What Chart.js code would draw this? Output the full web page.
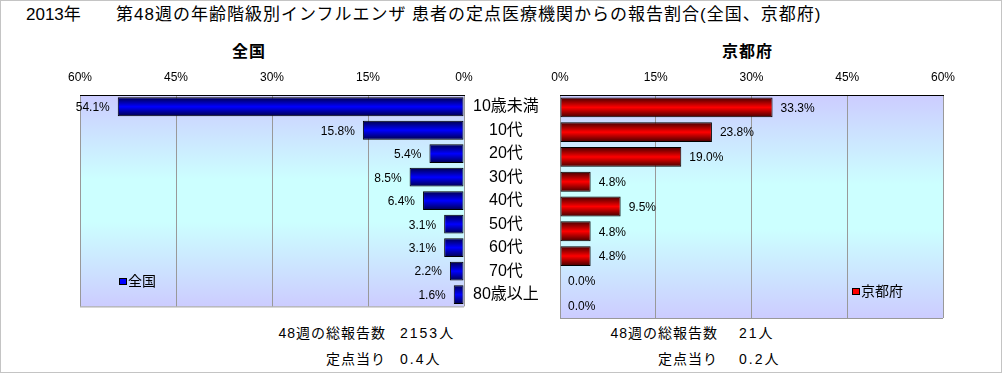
<!DOCTYPE html>
<html>
<head>
<meta charset="utf-8">
<script src="https://cdn.jsdelivr.net/npm/chart.js@4.4.1/dist/chart.umd.min.js"></script>
<style>
  body { margin:0; background:#fff; }
  #page { position:relative; width:1002px; height:373px; overflow:hidden;
          font-family:"Liberation Sans","Noto Sans CJK JP",sans-serif; color:#000; }
  #frame { position:absolute; left:0; top:0; width:1002px; height:373px; box-sizing:border-box; border:1px solid #c4c4c4; }
  .t { position:absolute; white-space:nowrap; line-height:1; }
  canvas { position:absolute; }
  .lg { font-size:14px; }
  .lg i { display:inline-block; width:6px; height:5px; border:1px solid #000; margin-right:1px; vertical-align:1px; }
  .ft { font-size:14px; letter-spacing:1px; }
  .fv { font-size:14px; letter-spacing:2px; }
</style>
</head>
<body>
<div id="page">
  <div id="frame"></div>
  <div class="t" style="left:26px;top:6px;font-size:17px;">2013年</div>
  <div class="t" style="left:116px;top:6px;font-size:17px;letter-spacing:1px;">第48週の年齢階級別インフルエンザ 患者の定点医療機関からの報告割合(全国、京都府)</div>
  <div class="t" style="left:232px;top:44px;font-size:16px;font-weight:bold;letter-spacing:1px;">全国</div>
  <div class="t" style="left:722px;top:44px;font-size:16px;font-weight:bold;letter-spacing:1px;">京都府</div>

  <canvas id="cL" width="560" height="265" style="left:0;top:60px;"></canvas>
  <canvas id="cR" width="462" height="265" style="left:540px;top:60px;"></canvas>

  <div class="t lg" style="left:119px;top:274px;"><i style="background:#0000ff"></i>全国</div>
  <div class="t lg" style="left:852px;top:284px;"><i style="background:#ff0000"></i>京都府</div>

  <div class="t ft" style="right:616px;top:326px;">48週の総報告数</div>
  <div class="t fv" style="left:400px;top:326px;">2153人</div>
  <div class="t ft" style="right:616px;top:352px;">定点当り</div>
  <div class="t fv" style="left:400px;top:352px;">0.4人</div>

  <div class="t ft" style="right:284px;top:326px;">48週の総報告数</div>
  <div class="t fv" style="left:739px;top:326px;">21人</div>
  <div class="t ft" style="right:284px;top:352px;">定点当り</div>
  <div class="t fv" style="left:739px;top:352px;">0.2人</div>
</div>

<script>
  // age groups and share of reports (%)
  var ageGroups = ['10歳未満', '10代', '20代', '30代', '40代', '50代', '60代', '70代', '80歳以上'];
  var zenkoku = [54.1, 15.8, 5.4, 8.5, 6.4, 3.1, 3.1, 2.2, 1.6];
  var kyoto = [33.3, 23.8, 19.0, 4.8, 9.5, 4.8, 4.8, 0.0, 0.0];
  var pctTicks = [0, 15, 30, 45, 60];

  var numFont = '"Liberation Sans", "Noto Sans CJK JP", sans-serif';

  // gradient background in the plot area + grey frame
  var areaBg = {
    id: 'areaBg',
    beforeDraw: function(chart) {
      var a = chart.chartArea, c = chart.ctx;
      var g = c.createLinearGradient(0, a.top, 0, a.bottom);
      g.addColorStop(0, '#ccccff');
      g.addColorStop(0.4, '#ccffff');
      g.addColorStop(0.6, '#ccffff');
      g.addColorStop(1, '#ccccff');
      c.save();
      c.fillStyle = g;
      c.fillRect(a.left, a.top, a.right - a.left, a.bottom - a.top);
      c.restore();
    },
    beforeDatasetsDraw: function(chart) {
      var a = chart.chartArea, c = chart.ctx;
      c.save();
      c.strokeStyle = '#999999';
      c.lineWidth = 1;
      c.beginPath();
      c.moveTo(a.left, a.bottom + 0.5);
      c.lineTo(a.right, a.bottom + 0.5);
      c.stroke();
      c.restore();
    }
  };

  // % labels next to the bar ends
  var valueLabels = {
    id: 'valueLabels',
    afterDatasetsDraw: function(chart, args, opts) {
      var c = chart.ctx;
      var meta = chart.getDatasetMeta(0);
      var vals = chart.data.datasets[0].data;
      c.save();
      c.font = '12px ' + numFont;
      c.fillStyle = '#000';
      c.textBaseline = 'middle';
      meta.data.forEach(function(bar, i) {
        var txt = vals[i].toFixed(1) + '%';
        if (opts.side == 'left') {
          c.textAlign = 'right';
          c.fillText(txt, bar.x - 8, bar.y + 1);
        } else {
          c.textAlign = 'left';
          c.fillText(txt, bar.x + 8, bar.y + 1);
        }
      });
      c.restore();
    }
  };

  function barFill(dark, bright) {
    return function(ctx) {
      var chart = ctx.chart;
      var y = chart.scales.y;
      if (!y || ctx.dataIndex === undefined) return bright;
      var mid = y.getPixelForValue(ctx.dataIndex);
      if (!isFinite(mid)) return bright;
      var g = chart.ctx.createLinearGradient(0, mid - 10, 0, mid + 10);
      g.addColorStop(0, dark);
      g.addColorStop(0.5, bright);
      g.addColorStop(1, dark);
      return g;
    };
  }

  function xScale(reverse) {
    return {
      position: 'top',
      reverse: reverse,
      min: pctTicks[0],
      max: pctTicks[pctTicks.length - 1],
      afterBuildTicks: function(s) { s.ticks = pctTicks.map(function(v) { return { value: v }; }); },
      ticks: { callback: function(v) { return v + '%'; }, font: { size: 12, family: numFont }, color: '#000', padding: 10, maxRotation: 0 },
      grid: { color: '#999999', drawTicks: false },
      border: { color: '#000' },
      afterFit: function(s) { s.height = 25; }
    };
  }

  new Chart(document.getElementById('cL'), {
    type: 'bar',
    data: {
      labels: ageGroups,
      datasets: [{
        label: '全国',
        data: zenkoku,
        backgroundColor: barFill('#000040', '#0000ff'),
        borderColor: '#000',
        borderWidth: 1,
        borderSkipped: false,
        barPercentage: 0.8,
        categoryPercentage: 1
      }]
    },
    options: {
      indexAxis: 'y',
      responsive: false,
      animation: false,
      layout: { padding: { left: 80, right: 12, top: 10, bottom: 7 } },
      plugins: { legend: { display: false }, tooltip: { enabled: false }, valueLabels: { side: 'left' } },
      scales: {
        x: xScale(true),
        y: {
          position: 'right',
          ticks: { font: { size: 16, family: numFont }, color: '#000', crossAlign: 'center', padding: 9 },
          grid: { display: false, drawTicks: false },
          border: { display: false },
          afterFit: function(s) { s.width = 84; }
        }
      }
    },
    plugins: [areaBg, valueLabels]
  });

  new Chart(document.getElementById('cR'), {
    type: 'bar',
    data: {
      labels: ageGroups,
      datasets: [{
        label: '京都府',
        data: kyoto,
        backgroundColor: barFill('#400000', '#ff0000'),
        borderColor: '#000',
        borderWidth: 1,
        borderSkipped: false,
        barPercentage: 0.8,
        categoryPercentage: 1
      }]
    },
    options: {
      indexAxis: 'y',
      responsive: false,
      animation: false,
      layout: { padding: { left: 20, right: 59, top: 10, bottom: 7 } },
      plugins: { legend: { display: false }, tooltip: { enabled: false }, valueLabels: { side: 'right' } },
      scales: {
        x: xScale(false),
        y: { display: false }
      }
    },
    plugins: [areaBg, valueLabels]
  });
</script>
</body>
</html>
